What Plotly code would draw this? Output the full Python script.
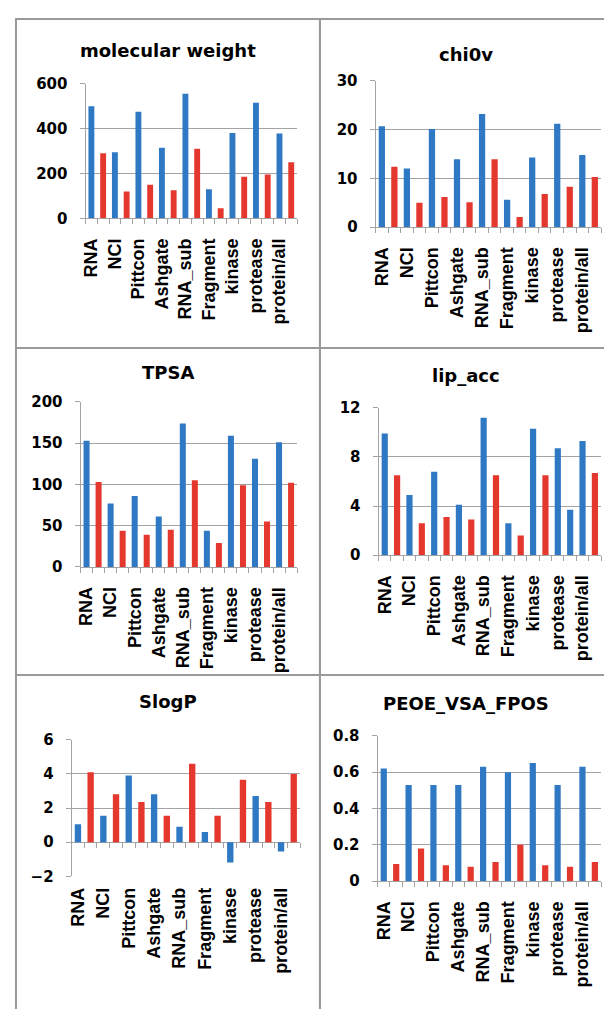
import plotly.graph_objects as go

# ---------------- data ----------------
categories = ["RNA", "NCI", "Pittcon", "Ashgate", "RNA_sub", "Fragment",
              "kinase", "protease", "protein/all"]

titles = ["molecular weight", "chi0v", "TPSA", "lip_acc", "SlogP", "PEOE_VSA_FPOS"]

mw_blue = [500, 295, 475, 315, 555, 130, 380, 515, 378]
mw_red = [290, 120, 150, 125, 310, 45, 185, 195, 250]

chi_blue = [20.7, 12.0, 20.1, 13.9, 23.2, 5.6, 14.3, 21.2, 14.8]
chi_red = [12.4, 5.0, 6.2, 5.1, 13.9, 2.1, 6.8, 8.3, 10.3]

tpsa_blue = [153, 77, 86, 61, 174, 44, 159, 131, 151]
tpsa_red = [103, 44, 39, 45, 105, 29, 99, 55, 102]

lip_blue = [9.9, 4.9, 6.8, 4.1, 11.2, 2.6, 10.3, 8.7, 9.3]
lip_red = [6.5, 2.6, 3.1, 2.9, 6.5, 1.6, 6.5, 3.7, 6.7]

slogp_blue = [1.05, 1.55, 3.9, 2.8, 0.9, 0.6, -1.2, 2.7, -0.55]
slogp_red = [4.1, 2.8, 2.35, 1.55, 4.6, 1.55, 3.65, 2.35, 4.0]

peoe_blue = [0.62, 0.53, 0.53, 0.53, 0.63, 0.60, 0.65, 0.53, 0.63]
peoe_red = [0.095, 0.18, 0.088, 0.08, 0.105, 0.20, 0.088, 0.08, 0.105]

y_ranges = [(0, 600), (0, 30), (0, 200), (0, 12), (-2, 6), (0, 0.8)]
y_dticks = [200, 10, 50, 4, 2, 0.2]

# ---------------- style / layout ----------------
OX, OY = 8, 8            # page margin of the html body
W, H = 612 - OX, 1009 - OY
BLUE = "#2f78c3"
RED = "#e4372d"
GRID = "#a3a3a3"
FRAME = "#9a9a9a"


def px_x(x):
    return (x - OX) / W


def px_y(y):
    return 1 - (y - OY) / H


# plot areas in screen pixels: x0, x1, ytop, ybottom
areas = [(82, 295, 76, 213), (374, 601, 73, 222),
         (77, 295, 400, 568), (377, 601, 406, 556),
         (68, 298, 744, 883), (376, 601, 740, 888)]
title_pos = [(165, 42), (465, 46), (165, 370), (465, 373), (165, 705), (465, 707)]
frames = [(12, 318, 10, 345), (318, 611, 10, 345),
          (12, 318, 345, 678), (318, 611, 345, 678),
          (12, 318, 678, 1100), (318, 611, 678, 1100)]

series = [(mw_blue, mw_red), (chi_blue, chi_red), (tpsa_blue, tpsa_red),
          (lip_blue, lip_red), (slogp_blue, slogp_red), (peoe_blue, peoe_red)]

fig = go.Figure()
layout = dict(width=W, height=H, margin=dict(l=0, r=0, t=0, b=0),
              paper_bgcolor="white", plot_bgcolor="rgba(0,0,0,0)",
              barmode="overlay", showlegend=False)

n_cat = len(categories)
x_blue = [2 * i for i in range(n_cat)]
x_red = [2 * i + 1 for i in range(n_cat)]

annotations = []
shapes = []
for k, (blue, red) in enumerate(series):
    n = k + 1
    xa = "x" if n == 1 else f"x{n}"
    ya = "y" if n == 1 else f"y{n}"
    red_colors = [RED] * n_cat
    if titles[k] == "lip_acc":
        red_colors[categories.index("protease")] = BLUE
    fig.add_trace(go.Bar(x=x_blue, y=blue, xaxis=xa, yaxis=ya,
                         marker=dict(color=BLUE, line=dict(width=0)), width=0.5))
    fig.add_trace(go.Bar(x=x_red, y=red, xaxis=xa, yaxis=ya,
                         marker=dict(color=red_colors, line=dict(width=0)), width=0.5))
    x0, x1, yt, yb = areas[k]
    is_neg = y_ranges[k][0] < 0
    layout["xaxis" if n == 1 else f"xaxis{n}"] = dict(
        domain=[px_x(x0), px_x(x1)], anchor=ya, range=[-0.5, 2 * n_cat - 0.5],
        tickmode="array", tickvals=x_blue, ticktext=categories, tickangle=-90,
        ticks="", showgrid=False, zeroline=False,
        showline=not is_neg, linecolor=GRID, linewidth=1,
        minor=dict(ticks="" if is_neg else "outside", ticklen=5, tickcolor=GRID,
                   tick0=-0.5, dtick=1, showgrid=False),
        ticklabelstandoff=12 if not is_neg else 7,
        tickfont=dict(family="Liberation Sans", size=18, color="black", weight="bold"),
        fixedrange=True)
    layout["yaxis" if n == 1 else f"yaxis{n}"] = dict(
        domain=[px_y(yb), px_y(yt)], anchor=xa, range=list(y_ranges[k]),
        tick0=0, dtick=y_dticks[k], showgrid=True, gridcolor=GRID, gridwidth=1,
        showline=True, linecolor=GRID, linewidth=1, ticks="outside", ticklen=5,
        tickcolor=GRID, zeroline=is_neg, zerolinecolor=GRID, zerolinewidth=1,
        ticklabelstandoff=9,
        tickfont=dict(family="DejaVu Sans", size=15, color="black", weight="bold"),
        fixedrange=True)
    if is_neg:
        # tick marks along the zero line
        lo, hi = y_ranges[k]
        zero_frac = (0 - lo) / (hi - lo)
        ypos = px_y(yb) + zero_frac * (px_y(yt) - px_y(yb))
        layout["xaxis7"] = dict(
            domain=[px_x(x0), px_x(x1)], anchor="free", position=ypos, overlaying=xa,
            range=[-0.5, 2 * n_cat - 0.5], showticklabels=False, showgrid=False,
            zeroline=False, showline=False, ticks="",
            minor=dict(ticks="outside", ticklen=5, tickcolor=GRID,
                       tick0=-0.5, dtick=1, showgrid=False),
            fixedrange=True)
    tx, ty = title_pos[k]
    annotations.append(dict(text=titles[k], x=px_x(tx), y=px_y(ty), xref="paper",
                            yref="paper", xanchor="center", yanchor="middle",
                            showarrow=False,
                            font=dict(family="DejaVu Sans", size=18, color="black",
                                      weight="bold")))
    fx0, fx1, fy0, fy1 = frames[k]
    shapes.append(dict(type="rect", xref="paper", yref="paper",
                       x0=px_x(fx0), x1=px_x(fx1), y0=px_y(fy1), y1=px_y(fy0),
                       line=dict(color=FRAME, width=2), layer="below"))

# dummy trace so the extra zero-line axis is rendered
fig.add_trace(go.Scatter(x=[None], y=[None], xaxis="x7", yaxis="y5",
                         mode="markers", hoverinfo="skip"))

layout["annotations"] = annotations
layout["shapes"] = shapes
fig.update_layout(**layout)
fig.write_html("out.html")
